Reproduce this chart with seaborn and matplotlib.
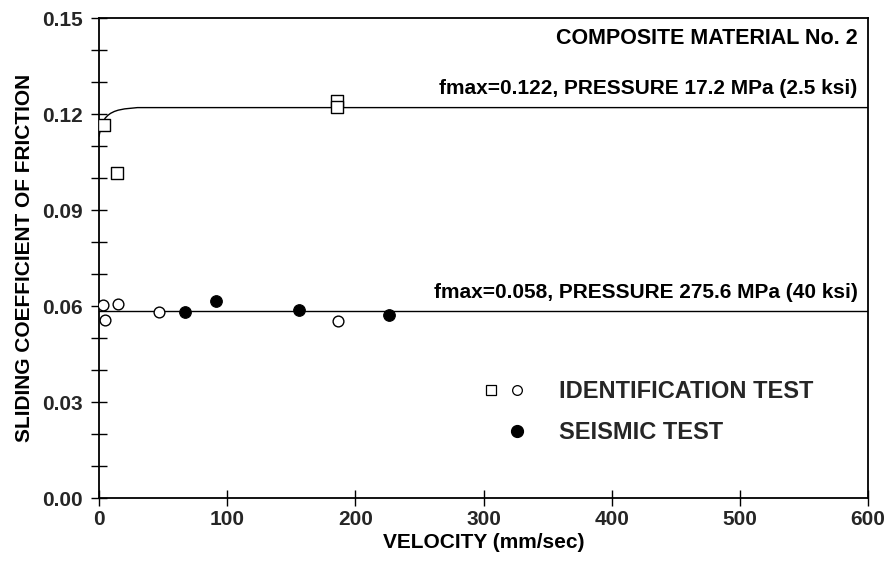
import matplotlib
matplotlib.use("Agg")
import matplotlib.pyplot as plt
import seaborn as sns
import pandas as pd
from matplotlib.ticker import MultipleLocator, FormatStrFormatter
from matplotlib.lines import Line2D
from matplotlib.legend_handler import HandlerTuple

# ---- data ----
sq_vel = [4, 14, 186, 186]
sq_f = [0.1165, 0.1015, 0.1242, 0.1223]

oc_vel = [3.4, 4.7, 14.6, 46.8, 186.7]
oc_f = [0.0603, 0.0556, 0.0606, 0.0582, 0.0553]

fc_vel = [67, 91, 156, 226.5]
fc_f = [0.0581, 0.0616, 0.0589, 0.0572]

hi_curve_vel = [0, 1, 2, 3.5, 5, 7, 9, 12, 15, 20, 25, 30, 40, 600]
hi_curve_f = [0.1130, 0.1150, 0.1165, 0.1178, 0.1188, 0.1196, 0.1202, 0.1208, 0.1212, 0.1216, 0.1218, 0.1220, 0.1220, 0.1220]

lo_curve_vel = [0, 600]
lo_curve_f = [0.0584, 0.0584]

x_ticks = [0, 100, 200, 300, 400, 500, 600]
y_ticks = [0.00, 0.03, 0.06, 0.09, 0.12, 0.15]

title_text = "COMPOSITE MATERIAL No. 2"
hi_label = "fmax=0.122, PRESSURE 17.2 MPa (2.5 ksi)"
lo_label = "fmax=0.058, PRESSURE 275.6 MPa (40 ksi)"
legend_labels = ["IDENTIFICATION TEST", "SEISMIC TEST"]

sns.set_theme(style="white")
plt.rcParams["font.family"] = ["Liberation Sans", "DejaVu Sans"]

fig = plt.figure(figsize=(8.93, 5.62), dpi=100)
ax = fig.add_axes([99 / 893, 1 - 498 / 562, (868 - 99) / 893, (498 - 18) / 562])

df_sq = pd.DataFrame({"v": sq_vel, "f": sq_f})
df_oc = pd.DataFrame({"v": oc_vel, "f": oc_f})
df_fc = pd.DataFrame({"v": fc_vel, "f": fc_f})
df_hi = pd.DataFrame({"v": hi_curve_vel, "f": hi_curve_f})
df_lo = pd.DataFrame({"v": lo_curve_vel, "f": lo_curve_f})

sns.lineplot(data=df_hi, x="v", y="f", ax=ax, color="black", linewidth=1.0, sort=False)
sns.lineplot(data=df_lo, x="v", y="f", ax=ax, color="black", linewidth=1.0, sort=False)
sns.scatterplot(data=df_sq, x="v", y="f", ax=ax, marker="s", s=75,
                facecolor="white", edgecolor="black", linewidth=1.0, zorder=3)
sns.scatterplot(data=df_oc, x="v", y="f", ax=ax, marker="o", s=60,
                facecolor="white", edgecolor="black", linewidth=1.0, zorder=3)
sns.scatterplot(data=df_fc, x="v", y="f", ax=ax, marker="o", s=70,
                color="black", edgecolor="black", linewidth=0.8, zorder=3)

ax.set_xlim(0, 600)
ax.set_ylim(0, 0.15)
ax.set_xticks(x_ticks)
ax.set_yticks(y_ticks)
ax.yaxis.set_minor_locator(MultipleLocator(0.01))
ax.yaxis.set_major_formatter(FormatStrFormatter("%.2f"))
ax.tick_params(axis="both", which="both", direction="inout", length=11, width=1.0,
               color="black", labelsize=15, bottom=True, left=True,
               top=False, right=False)
ax.tick_params(axis="y", pad=6)
ax.tick_params(axis="x", pad=3)
for lab in ax.get_xticklabels() + ax.get_yticklabels():
    lab.set_fontweight("bold")
for sp in ax.spines.values():
    sp.set_visible(True)
    sp.set_color("black")
    sp.set_linewidth(1.3)

ax.set_xlabel("VELOCITY (mm/sec)", fontsize=15, labelpad=3, color="black",
              fontweight="bold")
ax.set_ylabel("SLIDING COEFFICIENT OF FRICTION", fontsize=15, labelpad=6,
              color="black", fontweight="bold")

ax.text(592, 0.1436, title_text, ha="right", va="center", fontsize=15.5,
        fontweight="bold", color="black")
ax.text(592, 0.1250, hi_label, ha="right", va="bottom", fontsize=15,
        fontweight="bold", color="black")
ax.text(592, 0.0614, lo_label, ha="right", va="bottom", fontsize=15,
        fontweight="bold", color="black")

h_sq = Line2D([], [], linestyle="none", marker="s", markersize=7,
              markerfacecolor="white", markeredgecolor="black", markeredgewidth=0.9)
h_oc = Line2D([], [], linestyle="none", marker="o", markersize=7,
              markerfacecolor="white", markeredgecolor="black", markeredgewidth=0.9)
h_blank = Line2D([], [], linestyle="none", marker="")
h_fc = Line2D([], [], linestyle="none", marker="o", markersize=8.5,
              markerfacecolor="black", markeredgecolor="black")
fs_leg = 17
hl = 46.8 / (fs_leg * 100 / 72)
ax.legend([(h_sq, h_oc), (h_blank, h_fc)], legend_labels,
          handler_map={tuple: HandlerTuple(ndivide=None, pad=0.25)},
          loc="center left", bbox_to_anchor=(480.5 / 893, 1 - 412 / 562),
          bbox_transform=fig.transFigure, frameon=False,
          prop={"size": fs_leg, "weight": "bold"},
          handlelength=hl, handletextpad=1.35, borderpad=0, borderaxespad=0,
          labelspacing=0.75)

fig.savefig("out.png", dpi=100)
